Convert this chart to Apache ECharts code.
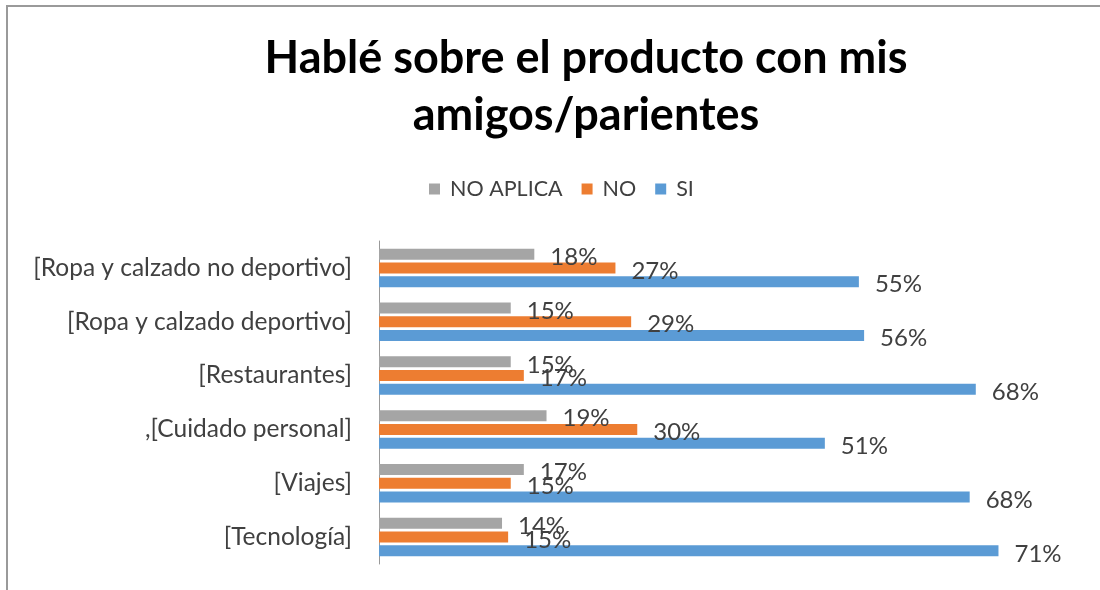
<!DOCTYPE html>
<html>
<head>
<meta charset="utf-8">
<script src="https://cdn.jsdelivr.net/npm/echarts@6/dist/echarts.min.js"></script>
<style>html,body{margin:0;padding:0;background:#fff}#c{width:1100px;height:590px}</style>
</head>
<body>
<div id="c"></div>
<script>
const titleText = 'Hablé sobre el producto con mis\namigos/parientes';
const categories = ['[Ropa y calzado no deportivo]', '[Ropa y calzado deportivo]', '[Restaurantes]', ',[Cuidado personal]', '[Viajes]', '[Tecnología]'];
const seriesNames = ['NO APLICA', 'NO', 'SI'];
const noAplica = [17.8, 15.1, 15.1, 19.2, 16.6, 14.1];
const no = [27.1, 28.9, 16.6, 29.6, 15.1, 14.8];
const si = [55.0, 55.6, 68.4, 51.1, 67.7, 71.0];
const colors = ['#A5A5A5', '#ED7D31', '#5B9BD5'];

const FONT = 'Lato';
const chart = echarts.init(document.getElementById('c'), null, {renderer: 'canvas'});
const mk = (name, data, color) => ({
  name, type: 'bar', data,
  barWidth: 11, barGap: '25%',
  itemStyle: {color},
  label: {
    show: true, position: 'right', distance: 16, offset: [0, 3],
    formatter: p => Math.round(p.value) + '%',
    fontFamily: FONT, fontSize: 24, color: '#404040'
  }
});
chart.setOption({
  animation: false,
  backgroundColor: '#fff',
  textStyle: {fontFamily: FONT},
  graphic: [{
    type: 'rect', silent: true,
    shape: {x: 7, y: 6, width: 1200, height: 700},
    style: {fill: 'none', stroke: '#9a9a9a', lineWidth: 2}
  }],
  title: {
    text: titleText, left: 581, textAlign: 'center', top: 25,
    textStyle: {fontFamily: FONT, fontWeight: 'bold', fontSize: 45, lineHeight: 57, color: '#000'}
  },
  legend: {
    data: seriesNames, top: 173, left: 424,
    itemWidth: 11, itemHeight: 11, itemGap: 19, icon: 'rect',
    textStyle: {fontFamily: FONT, fontSize: 21.5, color: '#404040', padding: [0, 0, 0, 5]}
  },
  grid: {left: 379, right: 23, top: 241, bottom: 26, containLabel: false},
  xAxis: {
    type: 'value', min: 0, max: 80, show: false
  },
  yAxis: {
    type: 'category', data: categories, inverse: true,
    axisLine: {show: true, lineStyle: {color: '#999', width: 1}},
    axisTick: {show: false},
    axisLabel: {fontFamily: FONT, fontSize: 24.5, color: '#404040', margin: 27}
  },
  series: [mk(seriesNames[0], noAplica, colors[0]), mk(seriesNames[1], no, colors[1]), mk(seriesNames[2], si, colors[2])]
});
</script>
</body>
</html>
